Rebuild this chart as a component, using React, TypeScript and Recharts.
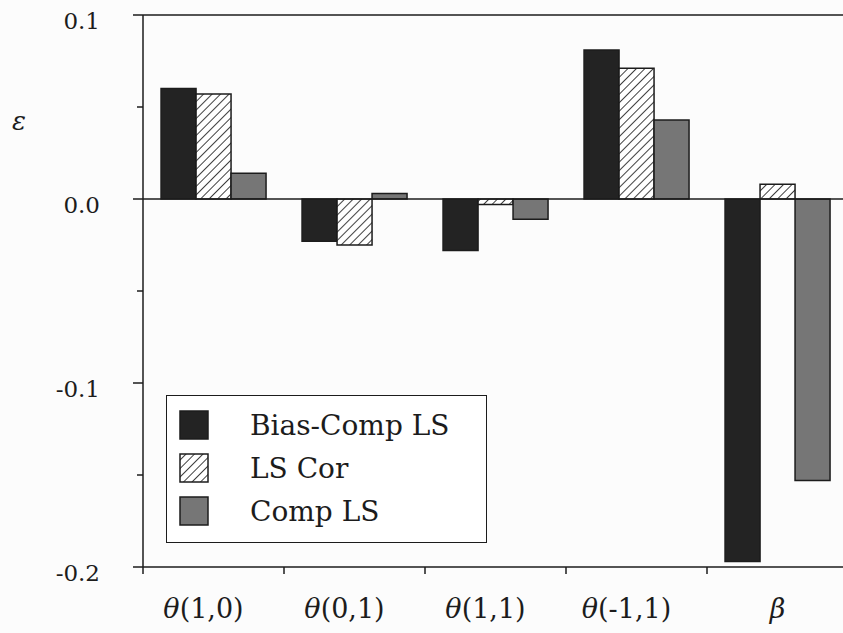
import React from 'react';
import { BarChart, Bar, XAxis, YAxis, ReferenceLine } from 'recharts';

const categories = ['θ(1,0)', 'θ(0,1)', 'θ(1,1)', 'θ(-1,1)', 'β'];
const biasCompLS = [0.06, -0.023, -0.028, 0.081, -0.197];
const lsCor = [0.057, -0.025, -0.003, 0.071, 0.008];
const compLS = [0.014, 0.003, -0.011, 0.043, -0.153];
const yTicks = [-0.2, -0.15, -0.1, -0.05, 0, 0.05, 0.1];
const yLabels: Record<string, string> = { '-0.2': '-0.2', '-0.1': '-0.1', '0': '0.0', '0.1': '0.1' };
const seriesNames = ['Bias-Comp LS', 'LS Cor', 'Comp LS'];

const data = categories.map((c, i) => ({
  name: c,
  bias: biasCompLS[i],
  cor: lsCor[i],
  comp: compLS[i],
}));

const FONT = '"DejaVu Serif", serif';
const INK = '#1c1c1c';
const BLACK = '#232323';
const GRAY = '#767676';

const YTick = (props: any) => {
  const { x, y, payload } = props;
  const key = String(payload.value);
  const label = yLabels[key];
  const major = label !== undefined;
  return (
    <g>
      <line x1={x - (major ? 10 : 6)} x2={x} y1={y} y2={y} stroke={INK} strokeWidth={1.5} />
      {major && (
        <text x={x - 43} y={y + 14} textAnchor="end" fontFamily={FONT} fontSize={23} fill={INK}>
          {label}
        </text>
      )}
    </g>
  );
};

const XTick = (props: any) => {
  const { x, y, payload, index, visibleTicksCount } = props;
  const half = 70.5;
  const v: string = payload.value;
  const isTheta = v.startsWith('θ');
  const rest = isTheta ? v.slice(1) : '';
  return (
    <g>
      <line x1={x - half} x2={x - half} y1={y} y2={y + 7} stroke={INK} strokeWidth={1.5} />
      {index === visibleTicksCount - 1 && (
        <line x1={x + half} x2={x + half} y1={y} y2={y + 7} stroke={INK} strokeWidth={1.5} />
      )}
      <text x={x + (isTheta ? -10 : 0)} y={y + 51} textAnchor="middle" fontFamily={FONT} fontSize={27} fill={INK}>
        {isTheta ? (
          <>
            <tspan fontStyle="italic">θ</tspan>
            <tspan>{rest}</tspan>
          </>
        ) : (
          <tspan fontStyle="italic">{v}</tspan>
        )}
      </text>
    </g>
  );
};

const Hatch = ({ id }: { id: string }) => (
  <pattern id={id} patternUnits="userSpaceOnUse" width={6} height={6} patternTransform="rotate(45)">
    <rect x={0} y={0} width={6} height={6} fill="#ffffff" />
    <line x1={0} y1={0} x2={0} y2={6} stroke="#2a2a2a" strokeWidth={1.8} />
  </pattern>
);

const LegendBox = () => {
  const fills = [BLACK, 'url(#hatchLegend)', GRAY];
  return (
    <div
      style={{
        position: 'absolute',
        left: 166,
        top: 395,
        width: 321,
        height: 148,
        border: `1.5px solid ${INK}`,
        background: '#ffffff',
        boxSizing: 'border-box',
      }}
    >
      <svg width={320} height={148} style={{ position: 'absolute', left: 0, top: 0 }}>
        <defs>
          <Hatch id="hatchLegend" />
        </defs>
        {seriesNames.map((n, i) => (
          <g key={n}>
            <rect x={13} y={15 + i * 43} width={28} height={28} fill={fills[i]} stroke={INK} strokeWidth={1.5} />
            <text x={83} y={39 + i * 43} fontFamily={FONT} fontSize={28} fill={INK}>
              {n}
            </text>
          </g>
        ))}
      </svg>
    </div>
  );
};

export default function App() {
  return (
    <div
      style={{
        position: 'fixed',
        left: 0,
        top: 0,
        width: 843,
        height: 633,
        overflow: 'hidden',
        background: '#fcfcfc',
      }}
    >
      <BarChart
        width={843}
        height={633}
        data={data}
        margin={{ top: 15, right: -5, bottom: 26, left: 63 }}
        barCategoryGap="12.8%"
        barGap={0}
      >
        <defs>
          <Hatch id="hatchBar" />
        </defs>
        <XAxis
          dataKey="name"
          tick={<XTick />}
          tickLine={false}
          tickSize={0}
          tickMargin={0}
          height={40}
          axisLine={{ stroke: INK, strokeWidth: 1.5 }}
          interval={0}
        />
        <YAxis
          type="number"
          domain={[-0.2, 0.1]}
          ticks={yTicks}
          tick={<YTick />}
          tickLine={false}
          tickSize={0}
          tickMargin={0}
          width={80}
          axisLine={{ stroke: INK, strokeWidth: 1.5 }}
          interval={0}
        />
        <ReferenceLine y={0.1} stroke={INK} strokeWidth={1.5} />
        <Bar dataKey="bias" fill={BLACK} stroke={INK} strokeWidth={1.5} isAnimationActive={false} />
        <Bar dataKey="cor" fill="url(#hatchBar)" stroke={INK} strokeWidth={1.5} isAnimationActive={false} />
        <Bar dataKey="comp" fill={GRAY} stroke={INK} strokeWidth={1.5} isAnimationActive={false} />
        <ReferenceLine y={0} stroke={INK} strokeWidth={1.5} />
      </BarChart>
      <LegendBox />
      <div
        style={{
          position: 'absolute',
          left: 12,
          top: 106,
          fontFamily: FONT,
          fontStyle: 'italic',
          fontSize: 26,
          color: INK,
        }}
      >
        ε
      </div>
    </div>
  );
}
